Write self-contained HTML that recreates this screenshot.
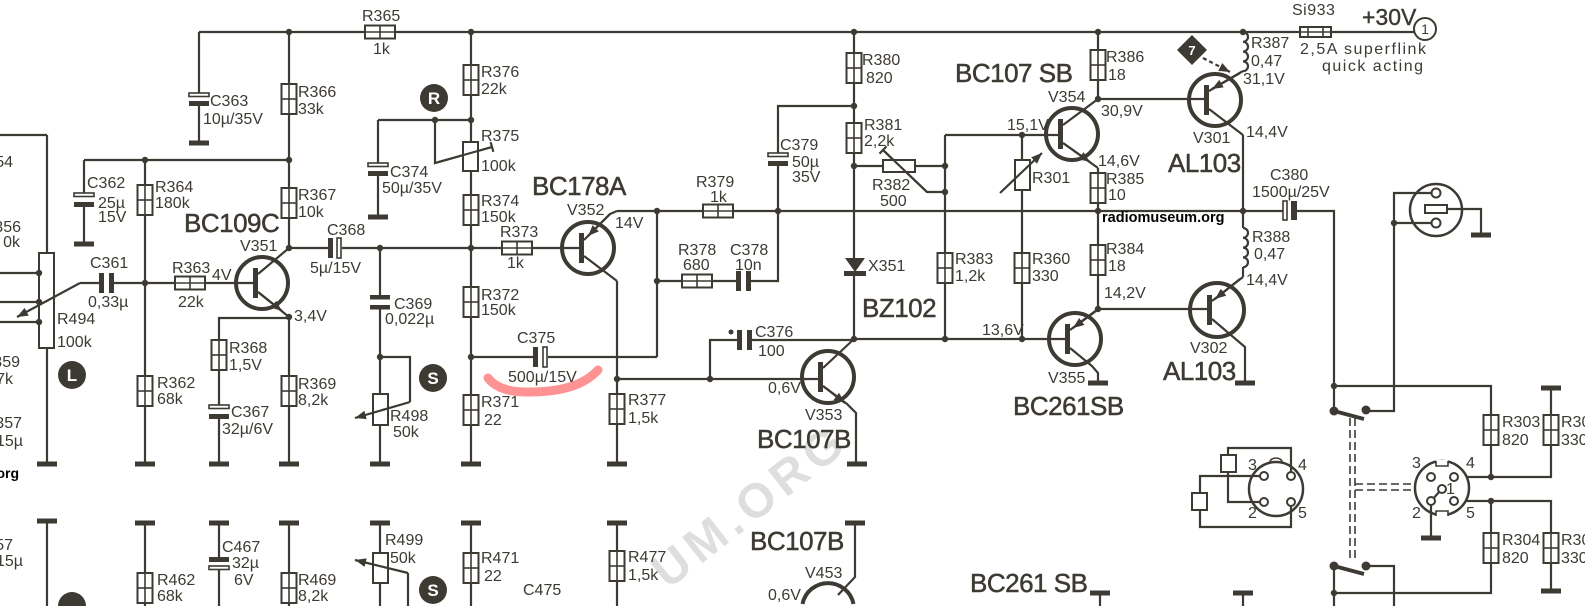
<!DOCTYPE html>
<html><head><meta charset="utf-8">
<style>
html,body{margin:0;padding:0;background:#fff;width:1585px;height:606px;overflow:hidden;}
svg{display:block;overflow:hidden;}
text{font-family:"Liberation Sans","DejaVu Sans",sans-serif;fill:#3d3a33;}
.s{font-size:16px;}
.b{font-size:26px;letter-spacing:-0.5px;stroke:#3d3a33;stroke-width:0.5;}
.w{stroke:#3d3a33;stroke-width:2.2;fill:none;}
.box{stroke:#3d3a33;stroke-width:2;fill:#fff;}
.t{stroke:#3d3a33;stroke-width:4;fill:none;}
.f{fill:#3d3a33;}
</style></head>
<body>
<svg width="1585" height="606" viewBox="0 0 1585 606" xmlns="http://www.w3.org/2000/svg">
<defs>
<clipPath id="cp"><rect width="1585" height="606"/></clipPath>
<marker id="ar" viewBox="0 0 10 8" refX="10" refY="4" markerWidth="11" markerHeight="9" markerUnits="userSpaceOnUse" orient="auto"><path d="M0,0 L10,4 L0,8z" fill="#3d3a33"/></marker>
<g id="rv"><rect x="-7.5" y="0" width="15" height="30" class="box"/><line x1="0" y1="0" x2="0" y2="30" stroke="#3d3a33" stroke-width="1.6"/><line x1="-7.5" y1="15" x2="7.5" y2="15" stroke="#3d3a33" stroke-width="1.6"/></g>
<g id="rh"><rect x="0" y="-6.5" width="30" height="13" class="box"/><line x1="0" y1="0" x2="30" y2="0" stroke="#3d3a33" stroke-width="1.6"/><line x1="15" y1="-6.5" x2="15" y2="6.5" stroke="#3d3a33" stroke-width="1.6"/></g>
<rect id="gnd" x="-10" y="-2.5" width="20" height="5" fill="#3d3a33"/>
<circle id="dot" r="3.2" fill="#3d3a33"/>
</defs>
<g clip-path="url(#cp)">
<rect width="1585" height="606" fill="#fff"/>

<!-- watermark -->
<text x="668" y="590" transform="rotate(-38 668 590)" font-size="48" font-weight="bold" style="fill:#dedede;letter-spacing:6px">UM.ORG</text>

<!-- red highlight -->
<path d="M488,378 Q500,393 530,392 Q578,392 598,370" stroke="#ff8080" stroke-width="9" fill="none" stroke-linecap="round" opacity="0.85"/>

<!-- ===== WIRES ===== -->
<g class="w">
<path d="M199,32 H1414"/>
<path d="M199,32 V93 M199,105 V143"/>
<path d="M289,32 V248"/>
<path d="M84,160 H289 M84,160 V193 M84,206 V244"/>
<path d="M145,160 V464"/>
<path d="M80,283 H99 M114,283 H255"/>
<path d="M47,135 V253 M47,348 V464 M0,135 H47"/>
<path d="M0,273 H39 M0,302 H39 M0,322 H39"/>
<path d="M289,317 V464 M289,318 H219 V405 M219,418 V464"/>
<path d="M289,248 H328 M342,248 H502 M532,248 H580"/>
<path d="M380,248 V295 M380,309 V464 M380,357 H410 V402"/>
<path d="M378,120 H471 M378,120 V163 M378,175 V217"/>
<path d="M435,120 V163 L492,147"/>
<path d="M490.6,142.2 L493.4,151.8"/>
<path d="M471,32 V464"/>
<path d="M471,357 H533 M548,357 H657"/>
<path d="M617,281 V464"/>
<path d="M617,379 H820 M710,379 V340 H737 M752,340 H854"/>
<path d="M657,211 V357 M657,281 H682 M712,281 H736 M751,281 H778 V211"/>
<path d="M617,211 H1243"/>
<path d="M778,211 V165 M778,153 V106 H854"/>
<path d="M854,32 V258 M854,276 V339"/>
<path d="M854,166 H883 M915,166 H945"/>
<path d="M883,150 L927,192 H945"/>
<path d="M879.5,153.6 L886.5,146.4"/>
<path d="M945,135 V339 M945,135 H1060"/>
<path d="M1022,135 V339"/>
<path d="M854,339 H1067"/>
<path d="M1098,32 V99 M1098,99 H1206"/>
<path d="M1098,168 V309 M1098,309 H1210"/>
<path d="M1243,135 V228 M1243,267 V277"/>
<path d="M1243,211 H1283 M1297,211 H1334 V411"/>
<path d="M1334,386 H1491 V415 M1491,445 V477 M1466,477 H1551 V445 M1551,415 V390"/>
<path d="M1466,501 H1551 V533 M1551,563 V591 M1491,501 V533 M1491,563 V593 H1334"/>
<path d="M1334,566 V606 M1366,566 H1394 V606"/>
<path d="M1366,411 H1394 V193 H1432 M1394,223 H1432"/>
<path d="M1447,209 H1481 V235"/>
<path d="M1431,505 V538 M1431,501 L1440,491"/>
<path d="M1291,472 V448 H1228 V502 H1260"/>
<path d="M1260,476 H1200 V527 H1291 V506"/>
<!-- bottom row -->
<path d="M47,521 V606 M145,523 V606 M219,523 V557 M219,570 V606 M289,523 V606 M380,523 V606 M471,523 V606 M617,523 V606"/>
<path d="M408,606 V573"/>
<path d="M855,523 V577 L838,595"/>
<path d="M1100,593 V606 M1243,593 V606"/>
<!-- coils -->
<path d="M1243,32 a5,4.9 0 0 1 0,9.8 a5,4.9 0 0 1 0,9.8 a5,4.9 0 0 1 0,9.8 a5,4.9 0 0 1 0,9.8"/>
<path d="M1243,228 a5,4.9 0 0 1 0,9.8 a5,4.9 0 0 1 0,9.8 a5,4.9 0 0 1 0,9.8 a5,4.9 0 0 1 0,9.8"/>
</g>

<!-- dashed linkage -->
<g stroke="#3d3a33" stroke-width="1.6" stroke-dasharray="8 4" fill="none">
<path d="M1350,418 V562 M1355,418 V562"/>
<path d="M1355,484 H1414 M1355,490 H1414"/>
</g>

<!-- switches -->
<circle cx="1334" cy="411" r="4.5" class="f"/>
<circle cx="1366" cy="410" r="4.5" class="f"/>
<path d="M1334,411 L1364,419" stroke="#3d3a33" stroke-width="4"/>
<circle cx="1334" cy="566" r="4.5" class="f"/>
<circle cx="1366" cy="566" r="4.5" class="f"/>
<path d="M1334,566 L1364,574" stroke="#3d3a33" stroke-width="4"/>

<!-- resistors vertical -->
<use href="#rv" x="289" y="84"/>
<use href="#rv" x="289" y="188"/>
<use href="#rv" x="145" y="185"/>
<use href="#rv" x="145" y="376"/>
<use href="#rv" x="219" y="340"/>
<use href="#rv" x="289" y="376"/>
<use href="#rv" x="471" y="65"/>
<use href="#rv" x="471" y="195"/>
<use href="#rv" x="471" y="287"/>
<use href="#rv" x="471" y="395"/>
<use href="#rv" x="617" y="394"/>
<use href="#rv" x="854" y="53"/>
<use href="#rv" x="854" y="123"/>
<use href="#rv" x="945" y="253"/>
<use href="#rv" x="1022" y="253"/>
<use href="#rv" x="1098" y="50"/>
<use href="#rv" x="1098" y="173"/>
<use href="#rv" x="1098" y="245"/>
<use href="#rv" x="1491" y="415"/>
<use href="#rv" x="1551" y="415"/>
<use href="#rv" x="1491" y="533"/>
<use href="#rv" x="1551" y="533"/>
<use href="#rv" x="145" y="573"/>
<use href="#rv" x="289" y="573"/>
<use href="#rv" x="471" y="553"/>
<use href="#rv" x="617" y="551"/>
<!-- horizontal -->
<use href="#rh" x="365" y="32"/>
<use href="#rh" x="175" y="283"/>
<use href="#rh" x="502" y="248"/>
<use href="#rh" x="703" y="211"/>
<use href="#rh" x="682" y="281"/>
<!-- plain boxes -->
<rect x="463" y="142" width="15" height="29" class="box"/>
<rect x="373" y="394" width="15" height="31" class="box"/>
<rect x="1015" y="160" width="15" height="30" class="box"/>
<rect x="883" y="160" width="32" height="12" class="box"/>
<rect x="39" y="253" width="15" height="95" class="box"/>
<rect x="373" y="553" width="15" height="30" class="box"/>
<path d="M435,163 L492,147" class="w"/>
<path d="M883,150 L927,192" class="w"/>
<path d="M1000,193 L1042,153" class="w" marker-end="url(#ar)"/>
<path d="M410,402 L355,418" class="w" marker-end="url(#ar)"/>
<path d="M408,573 L355,560" class="w" marker-end="url(#ar)"/>
<path d="M80,283 L17,317" class="w" marker-end="url(#ar)"/>
<path d="M1203,58 L1230,72" class="w" stroke-dasharray="4 3" marker-end="url(#ar)"/>

<!-- fuse -->
<rect x="1300" y="27" width="31" height="10" class="box"/>
<line x1="1300" y1="32" x2="1331" y2="32" stroke="#3d3a33" stroke-width="1.6"/>
<line x1="1308" y1="27" x2="1308" y2="37" stroke="#3d3a33" stroke-width="1.6"/>
<line x1="1323" y1="27" x2="1323" y2="37" stroke="#3d3a33" stroke-width="1.6"/>
<circle cx="1425" cy="29" r="11" class="box"/>

<!-- capacitors -->
<g class="f">
<rect x="189" y="101" width="20" height="5"/>
<rect x="74" y="202" width="20" height="5"/>
<rect x="209" y="414" width="20" height="5"/>
<rect x="368" y="171" width="20" height="5"/>
<rect x="768" y="161" width="20" height="5"/>
<rect x="209" y="557" width="20" height="5"/>
<rect x="370" y="295" width="20" height="4.5"/>
<rect x="370" y="305" width="20" height="4.5"/>
<rect x="328" y="238" width="5" height="20"/>
<rect x="533" y="347" width="5" height="20"/>
<rect x="99" y="273" width="5" height="20"/>
<rect x="109" y="273" width="5" height="20"/>
<rect x="736" y="271" width="5" height="20"/>
<rect x="746" y="271" width="5" height="20"/>
<rect x="737" y="330" width="5" height="20"/>
<rect x="747" y="330" width="5" height="20"/>
<circle cx="731" cy="332" r="2.5"/>
<rect x="1291" y="201" width="6" height="19"/>
</g>
<g stroke="#3d3a33" stroke-width="1.6" fill="#fff">
<rect x="189" y="93" width="20" height="3.5"/>
<rect x="74" y="193" width="20" height="3.5"/>
<rect x="209" y="405" width="20" height="3.5"/>
<rect x="368" y="163" width="20" height="3.5"/>
<rect x="768" y="153" width="20" height="3.5"/>
<rect x="209" y="566" width="20" height="3.5"/>
<rect x="337" y="238" width="4" height="20"/>
<rect x="543" y="347" width="4" height="20"/>
<rect x="1283" y="201" width="4" height="19"/>
</g>

<!-- diode -->
<polygon points="845,258 865,258 855,272" class="f"/>
<rect x="844" y="271" width="22" height="5" class="f"/>

<!-- transistors -->
<g class="t">
<circle cx="262" cy="283" r="26"/>
<circle cx="588" cy="248" r="26"/>
<circle cx="828" cy="377" r="26"/>
<circle cx="1072" cy="134" r="26"/>
<circle cx="1075" cy="339" r="26"/>
<circle cx="1215" cy="100" r="26"/>
<circle cx="1217" cy="310" r="27"/>
<path d="M802.5,604 A26,26 0 0 1 853.5,604"/>
</g>
<g class="f">
<rect x="253" y="268" width="5" height="30"/>
<rect x="579" y="233" width="5" height="30"/>
<rect x="818" y="362" width="5" height="30"/>
<rect x="1058" y="119" width="5" height="30"/>
<rect x="1065" y="324" width="5" height="30"/>
<rect x="1204" y="85" width="5" height="30"/>
<rect x="1207" y="295" width="5" height="30"/>
</g>
<g class="w">
<path d="M258,274 L289,248 M258,292 L289,317"/>
<path d="M258,292 L282,311" marker-end="url(#ar)"/>
<path d="M584,240 L610,214 L617,211 M584,256 L617,281"/>
<path d="M610,214 L588,236" marker-end="url(#ar)"/>
<path d="M823,368 L854,339 M823,386 L847,404 L856,413 V464"/>
<path d="M823,386 L845,403" marker-end="url(#ar)"/>
<path d="M1063,125 L1098,99 M1063,143 L1098,168"/>
<path d="M1063,143 L1090,162" marker-end="url(#ar)"/>
<path d="M1070,330 L1098,309 M1070,348 L1092,366 L1098,373 V383"/>
<path d="M1096,311 L1073,328" marker-end="url(#ar)"/>
<path d="M1209,91 L1243,71 M1209,109 L1243,135"/>
<path d="M1240,73 L1212,89" marker-end="url(#ar)"/>
<path d="M1212,301 L1243,277 M1212,319 L1245,347 V383"/>
<path d="M1240,279 L1215,299" marker-end="url(#ar)"/>
</g>

<!-- sockets -->
<circle cx="1436" cy="210" r="26" class="t" style="stroke-width:2.5"/>
<g class="box">
<circle cx="1436" cy="193" r="4.5"/>
<circle cx="1436" cy="223" r="4.5"/>
<rect x="1425" y="205" width="22" height="8"/>
</g>
<circle cx="1442" cy="488" r="27" class="t" style="stroke-width:2.5"/>
<circle cx="1276" cy="489" r="27" class="t" style="stroke-width:2.5"/>
<g class="box">
<rect x="1436" y="460" width="12" height="5" style="stroke:none"/>
<rect x="1436" y="512" width="12" height="5" style="stroke:none"/>
<circle cx="1431" cy="477" r="4"/>
<circle cx="1454" cy="477" r="4"/>
<circle cx="1442" cy="489" r="4"/>
<circle cx="1431" cy="501" r="4"/>
<circle cx="1454" cy="501" r="4"/>
<circle cx="1264" cy="476" r="4"/>
<circle cx="1291" cy="476" r="4"/>
<circle cx="1264" cy="502" r="4"/>
<circle cx="1291" cy="502" r="4"/>
<rect x="1221" y="455" width="15" height="17"/>
<rect x="1192" y="493" width="15" height="17"/>
</g>
<path d="M1436,461 V466 H1448 V461 M1436,516 V511 H1448 V516 M1270,462 a6,4 0 0 1 12,0" class="w" style="stroke-width:1.6"/>

<!-- 7 diamond -->
<polygon points="1192,35 1207,50 1192,65 1177,50" class="f"/>
<text x="1192" y="55" text-anchor="middle" style="fill:#fff;font-size:13px;font-weight:bold">7</text>

<!-- grounds -->
<use href="#gnd" x="199" y="143"/>
<use href="#gnd" x="84" y="244"/>
<use href="#gnd" x="47" y="464"/>
<use href="#gnd" x="145" y="464"/>
<use href="#gnd" x="219" y="464"/>
<use href="#gnd" x="289" y="464"/>
<use href="#gnd" x="380" y="464"/>
<use href="#gnd" x="471" y="464"/>
<use href="#gnd" x="617" y="464"/>
<use href="#gnd" x="857" y="464"/>
<use href="#gnd" x="378" y="217"/>
<use href="#gnd" x="1098" y="383"/>
<use href="#gnd" x="1245" y="383"/>
<use href="#gnd" x="1481" y="235"/>
<use href="#gnd" x="1431" y="538"/>
<use href="#gnd" x="1551" y="388"/>
<use href="#gnd" x="1551" y="591"/>
<use href="#gnd" x="47" y="521"/>
<use href="#gnd" x="145" y="523"/>
<use href="#gnd" x="219" y="523"/>
<use href="#gnd" x="289" y="523"/>
<use href="#gnd" x="380" y="523"/>
<use href="#gnd" x="471" y="523"/>
<use href="#gnd" x="617" y="523"/>
<use href="#gnd" x="855" y="523"/>
<use href="#gnd" x="1100" y="593"/>
<use href="#gnd" x="1243" y="593"/>

<!-- dots -->
<g>
<use href="#dot" x="289" y="32"/><use href="#dot" x="471" y="32"/><use href="#dot" x="854" y="32"/>
<use href="#dot" x="1098" y="32"/><use href="#dot" x="1243" y="32"/>
<use href="#dot" x="289" y="160"/><use href="#dot" x="145" y="160"/><use href="#dot" x="145" y="283"/>
<use href="#dot" x="289" y="248"/><use href="#dot" x="380" y="248"/><use href="#dot" x="471" y="248"/>
<use href="#dot" x="289" y="317"/><use href="#dot" x="380" y="357"/><use href="#dot" x="471" y="357"/>
<use href="#dot" x="435" y="120"/><use href="#dot" x="471" y="120"/>
<use href="#dot" x="657" y="211"/><use href="#dot" x="778" y="211"/><use href="#dot" x="657" y="281"/>
<use href="#dot" x="617" y="379"/><use href="#dot" x="710" y="379"/>
<use href="#dot" x="854" y="339"/><use href="#dot" x="945" y="339"/><use href="#dot" x="1022" y="339"/>
<use href="#dot" x="854" y="106"/><use href="#dot" x="854" y="166"/><use href="#dot" x="945" y="166"/><use href="#dot" x="945" y="192"/>
<use href="#dot" x="1022" y="135"/><use href="#dot" x="1098" y="99"/><use href="#dot" x="1098" y="211"/>
<use href="#dot" x="1243" y="211"/><use href="#dot" x="1098" y="309"/>
<use href="#dot" x="1334" y="386"/><use href="#dot" x="1394" y="223"/>
<use href="#dot" x="1491" y="477"/><use href="#dot" x="1491" y="501"/><use href="#dot" x="1334" y="593"/>
<use href="#dot" x="39" y="273"/><use href="#dot" x="39" y="302"/><use href="#dot" x="39" y="322"/>
</g>

<!-- marker circles -->
<g class="f">
<circle cx="434" cy="98" r="14"/>
<circle cx="433" cy="378" r="14"/>
<circle cx="72" cy="375" r="14"/>
<circle cx="433" cy="590" r="14"/>
<path d="M58,606 A14,14 0 0 1 86,606 Z"/>
</g>
<g style="font-size:17px;font-weight:bold" text-anchor="middle">
<text x="434" y="104" style="fill:#fff">R</text>
<text x="433" y="384" style="fill:#fff">S</text>
<text x="72" y="381" style="fill:#fff">L</text>
<text x="433" y="596" style="fill:#fff">S</text>
</g>

<!-- ===== LABELS ===== -->
<g class="s">
<text x="362" y="21">R365</text><text x="373" y="54">1k</text>
<text x="210" y="106">C363</text><text x="203" y="124">10µ/35V</text>
<text x="298" y="97">R366</text><text x="298" y="114">33k</text>
<text x="481" y="77">R376</text><text x="481" y="94">22k</text>
<text x="481" y="141">R375</text><text x="481" y="171">100k</text>
<text x="390" y="177">C374</text><text x="382" y="193">50µ/35V</text>
<text x="481" y="206">R374</text><text x="481" y="222">150k</text>
<text x="87" y="188">C362</text><text x="98" y="208">25µ</text><text x="98" y="222">15V</text>
<text x="155" y="192">R364</text><text x="155" y="208">180k</text>
<text x="298" y="200">R367</text><text x="298" y="217">10k</text>
<text x="327" y="235">C368</text>
<text x="240" y="251">V351</text>
<text x="90" y="268">C361</text><text x="88" y="307">0,33µ</text>
<text x="172" y="273">R363</text><text x="212" y="280">4V</text><text x="178" y="307">22k</text>
<text x="310" y="273">5µ/15V</text>
<text x="294" y="321">3,4V</text>
<text x="57" y="324">R494</text><text x="57" y="347">100k</text>
<text x="229" y="353">R368</text><text x="229" y="370">1,5V</text>
<text x="157" y="388">R362</text><text x="157" y="404">68k</text>
<text x="231" y="417">C367</text><text x="222" y="434">32µ/6V</text>
<text x="298" y="389">R369</text><text x="298" y="405">8,2k</text>
<text x="394" y="309">C369</text><text x="385" y="324">0,022µ</text>
<text x="390" y="421">R498</text><text x="393" y="437">50k</text>
<text x="481" y="300">R372</text><text x="481" y="315">150k</text>
<text x="500" y="237">R373</text><text x="507" y="268">1k</text>
<text x="481" y="407">R371</text><text x="484" y="425">22</text>
<text x="517" y="343">C375</text><text x="508" y="382">500µ/15V</text>
<text x="628" y="405">R377</text><text x="628" y="423">1,5k</text>
<text x="567" y="215">V352</text><text x="615" y="228">14V</text>
<text x="696" y="187">R379</text><text x="710" y="202">1k</text>
<text x="678" y="255">R378</text><text x="683" y="270">680</text>
<text x="730" y="255">C378</text><text x="735" y="270">10n</text>
<text x="780" y="150">C379</text><text x="792" y="167">50µ</text><text x="792" y="182">35V</text>
<text x="862" y="65">R380</text><text x="866" y="83">820</text>
<text x="864" y="130">R381</text><text x="864" y="146">2,2k</text>
<text x="872" y="190">R382</text><text x="880" y="206">500</text>
<text x="868" y="271">X351</text>
<text x="955" y="264">R383</text><text x="955" y="281">1,2k</text>
<text x="1032" y="264">R360</text><text x="1032" y="281">330</text>
<text x="1032" y="183">R301</text>
<text x="1007" y="130">15,1V</text>
<text x="982" y="335">13,6V</text>
<text x="755" y="337">C376</text><text x="758" y="356">100</text>
<text x="768" y="393">0,6V</text>
<text x="805" y="420">V353</text>
<text x="1048" y="102">V354</text>
<text x="1101" y="116">30,9V</text>
<text x="1098" y="166">14,6V</text>
<text x="1106" y="62">R386</text><text x="1108" y="80">18</text>
<text x="1106" y="184">R385</text><text x="1108" y="200">10</text>
<text x="1106" y="254">R384</text><text x="1108" y="271">18</text>
<text x="1104" y="298">14,2V</text>
<text x="1048" y="383">V355</text>
<text x="1193" y="143">V301</text>
<text x="1251" y="48">R387</text><text x="1251" y="66">0,47</text><text x="1243" y="84">31,1V</text>
<text x="1246" y="137">14,4V</text>
<text x="1292" y="15" style="letter-spacing:0.5px">Si933</text>
<text x="1300" y="54" style="letter-spacing:1.5px">2,5A superflink</text>
<text x="1322" y="71" style="letter-spacing:1.5px">quick acting</text>
<text x="1270" y="180">C380</text><text x="1252" y="197">1500µ/25V</text>
<text x="1252" y="242">R388</text><text x="1254" y="259">0,47</text><text x="1246" y="285">14,4V</text>
<text x="1190" y="353">V302</text>
<text x="1502" y="427">R303</text><text x="1502" y="445">820</text>
<text x="1561" y="427">R305</text><text x="1561" y="445">330</text>
<text x="1502" y="545">R304</text><text x="1502" y="563">820</text>
<text x="1561" y="545">R306</text><text x="1561" y="563">330</text>
<text x="1412" y="468">3</text><text x="1466" y="468">4</text><text x="1446" y="494">1</text>
<text x="1412" y="518">2</text><text x="1466" y="518">5</text>
<text x="1248" y="470">3</text><text x="1298" y="470">4</text>
<text x="1248" y="518">2</text><text x="1298" y="518">5</text>
<!-- bottom row -->
<text x="157" y="585">R462</text><text x="157" y="601">68k</text>
<text x="222" y="552">C467</text><text x="232" y="568">32µ</text><text x="234" y="585">6V</text>
<text x="298" y="585">R469</text><text x="298" y="601">8,2k</text>
<text x="385" y="545">R499</text><text x="390" y="563">50k</text>
<text x="481" y="563">R471</text><text x="484" y="581">22</text>
<text x="628" y="562">R477</text><text x="628" y="580">1,5k</text>
<text x="523" y="595">C475</text>
<text x="805" y="578">V453</text><text x="768" y="600">0,6V</text>
<!-- left edge fragments -->
<text x="13" y="167" text-anchor="end">54</text>
<text x="21" y="232" text-anchor="end">356</text><text x="20" y="247" text-anchor="end">0k</text>
<text x="20" y="367" text-anchor="end">359</text><text x="13" y="384" text-anchor="end">7k</text>
<text x="22" y="428" text-anchor="end">357</text><text x="23" y="446" text-anchor="end">15µ</text>
<text x="13" y="550" text-anchor="end">57</text><text x="23" y="566" text-anchor="end">15µ</text>
</g>
<text x="19" y="478" text-anchor="end" style="font-size:14px;font-weight:bold;fill:#000">org</text>
<text x="1102" y="222" style="font-size:14.5px;font-weight:bold;fill:#000">radiomuseum.org</text>
<text x="1425" y="34" text-anchor="middle" style="font-size:14px">1</text>
<text x="1362" y="25" style="font-size:23px;stroke:#3d3a33;stroke-width:0.4">+30V</text>

<g class="b">
<text x="184" y="232">BC109C</text>
<text x="532" y="195">BC178A</text>
<text x="757" y="448">BC107B</text>
<text x="862" y="317">BZ102</text>
<text x="955" y="82">BC107 SB</text>
<text x="1013" y="415">BC261SB</text>
<text x="1168" y="172">AL103</text>
<text x="1163" y="380">AL103</text>
<text x="750" y="550">BC107B</text>
<text x="970" y="592">BC261 SB</text>
</g>
</g>
</svg>
</body></html>
